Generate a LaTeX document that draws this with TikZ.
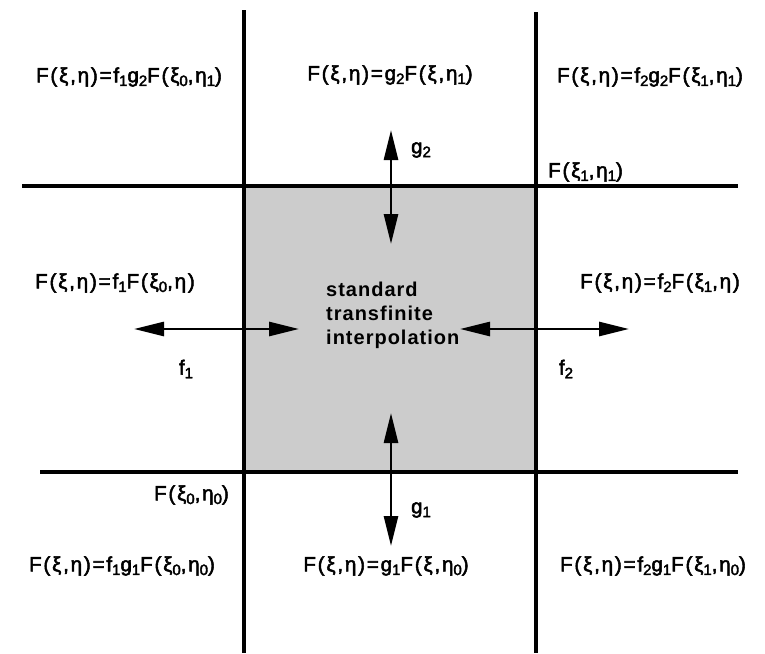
\documentclass[tikz,border=0pt]{standalone}
\usepackage{fontspec}
\setmainfont{Liberation Sans}
\newfontfamily\lbfont[LetterSpace=9,FakeBold=2.5]{Liberation Sans}
\newfontfamily\ctrfont[LetterSpace=5]{Liberation Sans Bold}
\usetikzlibrary{arrows.meta}
\newcommand\lsub[1]{\raisebox{-0.18em}{\fontsize{15}{15}\selectfont #1}}
\tikzset{
  lbl/.style={font=\lbfont\fontsize{20.5}{24}\selectfont, inner sep=0pt},
  gridline/.style={line width=3.4pt},
  dar/.style={line width=2.6pt, {Triangle[length=30pt,width=14pt]}-{Triangle[length=30pt,width=14pt]}}
}
\begin{document}
\begin{tikzpicture}[x=1pt,y=-1pt]
\useasboundingbox (0,0) rectangle (765,653);
% grid coordinates
\coordinate (v1t) at (244,10);  \coordinate (v1b) at (244,653);
\coordinate (v2t) at (536,12);  \coordinate (v2b) at (536,653);
\coordinate (h1l) at (22,186);  \coordinate (h1r) at (738,186);
\coordinate (h2l) at (40,472);  \coordinate (h2r) at (738,472);
\fill[black!20] (244,186) rectangle (536,472);
\draw[gridline] (v1t) -- (v1b);
\draw[gridline] (v2t) -- (v2b);
\draw[gridline] (h1l) -- (h1r);
\draw[gridline] (h2l) -- (h2r);
% arrows
\coordinate (at) at (391,130); \coordinate (ab) at (391,244);
\coordinate (bt) at (391,413); \coordinate (bb) at (391,546);
\coordinate (ll) at (134,329); \coordinate (lr) at (299,329);
\coordinate (rl) at (460,329); \coordinate (rr) at (629,329);
\draw[dar] (at) -- (ab);
\draw[dar] (bt) -- (bb);
\draw[dar] (ll) -- (lr);
\draw[dar] (rl) -- (rr);
% labels
\node[lbl] (tl) at (129,77) {F(ξ,η)=f\lsub{1}g\lsub{2}F(ξ\lsub{0},η\lsub{1})};
\node[lbl] (tm) at (390,75) {F(ξ,η)=g\lsub{2}F(ξ,η\lsub{1})};
\node[lbl] (tr) at (650,77) {F(ξ,η)=f\lsub{2}g\lsub{2}F(ξ\lsub{1},η\lsub{1})};
\node[lbl,anchor=west] (c11) at (548,172) {F(ξ\lsub{1},η\lsub{1})};
\node[lbl] (g2) at (421,150) {g\lsub{2}};
\node[lbl] (ml) at (115,283) {F(ξ,η)=f\lsub{1}F(ξ\lsub{0},η)};
\node[lbl] (mr) at (660,283) {F(ξ,η)=f\lsub{2}F(ξ\lsub{1},η)};
\node[lbl] (f1) at (186,369) {f\lsub{1}};
\node[lbl] (f2) at (566,369) {f\lsub{2}};
\node[lbl,anchor=north west,align=left,font=\ctrfont\fontsize{20}{24}\selectfont] (ctr) at (326,282) {standard\\transfinite\\interpolation};
\node[lbl,anchor=east] (c00) at (229,495) {F(ξ\lsub{0},η\lsub{0})};
\node[lbl] (g1) at (421,510) {g\lsub{1}};
\node[lbl] (bl) at (122,566) {F(ξ,η)=f\lsub{1}g\lsub{1}F(ξ\lsub{0},η\lsub{0})};
\node[lbl] (bm) at (386,566) {F(ξ,η)=g\lsub{1}F(ξ,η\lsub{0})};
\node[lbl] (br) at (653,566) {F(ξ,η)=f\lsub{2}g\lsub{1}F(ξ\lsub{1},η\lsub{0})};
\end{tikzpicture}
\end{document}
